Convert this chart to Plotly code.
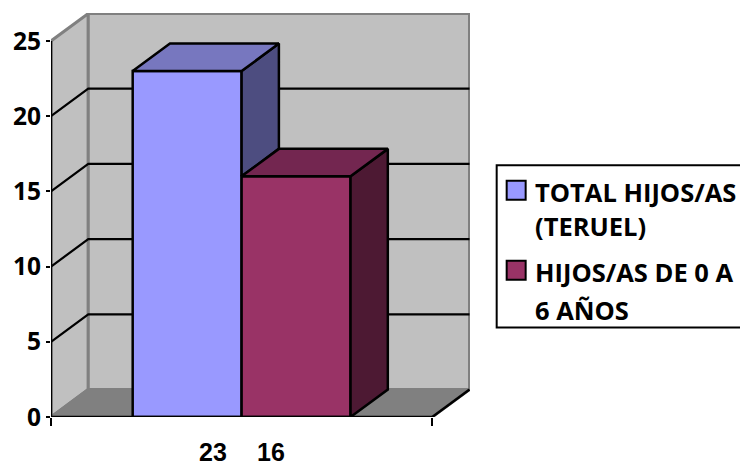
import plotly.graph_objects as go

categories = ["23", "16"]
series_lines = [["TOTAL HIJOS/AS", "(TERUEL)"], ["HIJOS/AS DE 0 A", "6 AÑOS"]]
values = [23, 16]
y_ticks = [0, 5, 10, 15, 20, 25]
front_colors = ["#9999FF", "#993366"]
top_colors = ["#7777BF", "#732650"]
side_colors = ["#4D4D80", "#4D1933"]

W, H = 740, 467
L, R, T, B = 51, 470.3, 13, 417.5
PX_X = 109.0   # px per x unit (one bar width)
PX_Y = 15.06   # px per value unit
DX = 37.3 / PX_X
DY = 27.5 / PX_Y
X_END = 3.5
GAP = 0.75
FONT = "'Open Sans', Lato, sans-serif"
BOLD = dict(family=FONT, weight="bold", color="black")
LW = 2.5

xr = [0, (R - L) / PX_X]
yr = [0, (B - T) / PX_Y]
Y_MAX = y_ticks[-1]


def path(pts):
    return "M" + " L".join(f"{x},{y}" for x, y in pts) + " Z"


def px(x):
    return (x - L) / (R - L)


def py(y):
    return (B - y) / (B - T)


shapes = []
wall = dict(type="path", xref="x", yref="y", layer="below",
            line=dict(color="#808080", width=3))
shapes.append(dict(wall, path=path([(0, 0), (DX, DY), (DX, Y_MAX + DY), (0, Y_MAX)]), fillcolor="#C0C0C0"))
shapes.append(dict(wall, path=path([(DX, DY), (X_END + DX, DY), (X_END + DX, Y_MAX + DY), (DX, Y_MAX + DY)]), fillcolor="#C0C0C0"))
shapes.append(dict(wall, path=path([(0, 0), (X_END, 0), (X_END + DX, DY), (DX, DY)]), fillcolor="#808080"))
for t in y_ticks[1:-1]:
    shapes.append(dict(type="path", xref="x", yref="y", layer="below",
                       path=f"M0,{t} L{DX},{t + DY} L{X_END + DX},{t + DY}",
                       line=dict(color="black", width=2.2)))
shapes.append(dict(type="line", xref="x", yref="y", layer="below", x0=X_END, y0=0, x1=X_END + DX, y1=DY,
                   line=dict(color="black", width=LW)))

annotations = []

# legend box, open at the right because it runs off the page
shapes.append(dict(type="rect", xref="paper", yref="paper", x0=px(497), x1=px(760), y0=py(165.5), y1=py(328),
                   fillcolor="white", line=dict(color="black", width=2)))
legend_rows = [(192, 226), (272, 310)]
for i, lines in enumerate(series_lines):
    first = legend_rows[i][0]
    shapes.append(dict(type="rect", xref="paper", yref="paper",
                       x0=px(507), x1=px(526), y0=py(first - 11), y1=py(first + 8),
                       fillcolor=front_colors[i], line=dict(color="black", width=2)))
    for text, row in zip(lines, legend_rows[i]):
        annotations.append(dict(xref="paper", yref="paper", x=px(533), y=py(row), xanchor="left", yanchor="middle",
                                text=text, showarrow=False, font=dict(size=25.5, **BOLD)))

fig = go.Figure()
centers = [GAP + 0.5 + i for i in range(len(values))]

for i, v in enumerate(values):
    fig.add_trace(go.Bar(x=[centers[i]], y=[v], width=[1], name=" ".join(series_lines[i]),
                         marker=dict(color=front_colors[i], line=dict(color="black", width=LW)),
                         hoverinfo="skip"))

line = dict(color="black", width=LW)
for i, v in enumerate(values):
    x0, x1 = centers[i] - 0.5, centers[i] + 0.5
    # the side face stops where the next bar's front and top hide it
    low = values[i + 1] if i + 1 < len(values) else 0
    fig.add_trace(go.Scatter(x=[x1, x1 + DX, x1 + DX, x1, x1], y=[low, low + DY, v + DY, v, low],
                             mode="lines", fill="toself", fillcolor=side_colors[i], line=line,
                             showlegend=False, hoverinfo="skip"))
    fig.add_trace(go.Scatter(x=[x0, x1, x1 + DX, x0 + DX, x0], y=[v, v, v + DY, v + DY, v],
                             mode="lines", fill="toself", fillcolor=top_colors[i], line=line,
                             showlegend=False, hoverinfo="skip"))

# axis lines stop at the front plane
fig.add_trace(go.Scatter(x=[0, 0, X_END], y=[Y_MAX, 0, 0], mode="lines", line=line,
                         showlegend=False, hoverinfo="skip", cliponaxis=False))

# the two category labels sit either side of the middle of the bars
mid = sum(centers) / len(centers)
for text, shift in zip(categories, (-29, 29)):
    annotations.append(dict(x=mid, y=0, xref="x", yref="y", yshift=-35, xshift=shift,
                            text=text, showarrow=False,
                            font=dict(size=25, family="'Liberation Sans', sans-serif", weight="bold", color="black")))

fig.update_layout(
    width=W, height=H, autosize=False,
    margin=dict(l=L, r=W - R, t=T, b=H - B, pad=0, autoexpand=False),
    paper_bgcolor="white", plot_bgcolor="white",
    barmode="overlay", shapes=shapes, showlegend=False,
    font=dict(family=FONT, color="black"),
    xaxis=dict(range=xr, showgrid=False, zeroline=False, showline=False,
               tickmode="array", tickvals=[0, X_END], ticktext=["", ""],
               ticks="outside", ticklen=8, tickwidth=2, tickcolor="black"),
    yaxis=dict(range=yr, showgrid=False, zeroline=False, showline=False,
               tickmode="array", tickvals=y_ticks, ticktext=[str(t) for t in y_ticks],
               ticks="outside", ticklen=4, tickwidth=2, tickcolor="black",
               tickfont=dict(size=24.5, **BOLD)),
    annotations=annotations,
)

fig.write_html("out.html", config=dict(displayModeBar=False),
               post_script="document.body.style.margin='0';document.body.style.overflow='hidden';")
